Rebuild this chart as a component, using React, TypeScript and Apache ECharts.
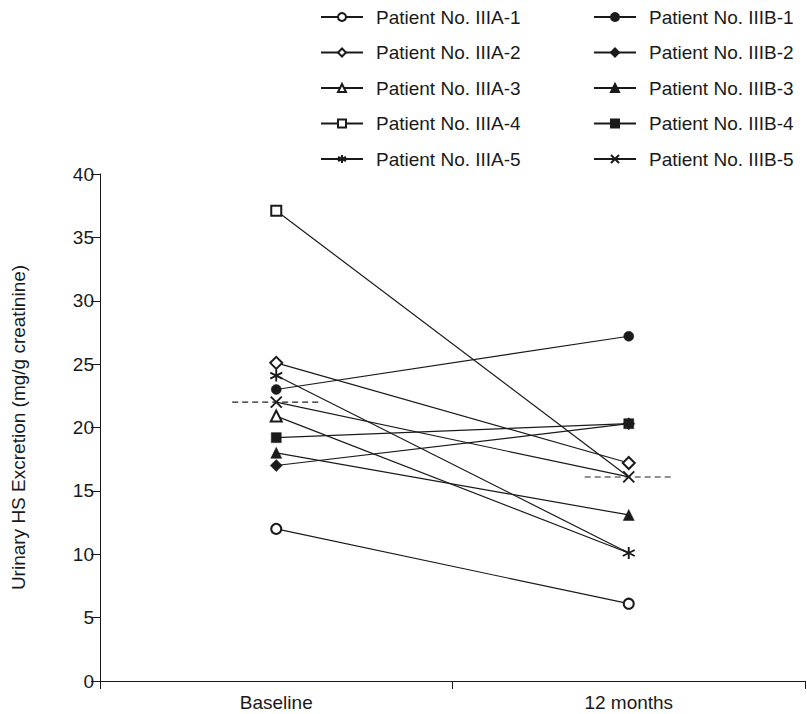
import React, { useEffect, useRef } from "react";
import * as echarts from "echarts";

const categories = ["Baseline", "12 months"];
const patients = [
  "Patient No. IIIA-1",
  "Patient No. IIIA-2",
  "Patient No. IIIA-3",
  "Patient No. IIIA-4",
  "Patient No. IIIA-5",
  "Patient No. IIIB-1",
  "Patient No. IIIB-2",
  "Patient No. IIIB-3",
  "Patient No. IIIB-4",
  "Patient No. IIIB-5",
];
const baselineValues = [12.0, 25.1, 20.9, 37.1, 24.1, 23.0, 17.0, 18.0, 19.2, 22.0];
const month12Values = [6.1, 17.2, 10.1, 16.1, 10.1, 27.2, 20.3, 13.1, 20.3, 16.1];
const meanValues = [22.0, 16.1];
const yMin = 0;
const yMax = 40;
const yInterval = 5;

const ASTERISK = "path://M5,0L5,10M0.7,2.5L9.3,7.5M0.7,7.5L9.3,2.5";
const CROSS = "path://M0,0L10,10M0,10L10,0";
const symbols = [
  "emptyCircle",
  "emptyDiamond",
  "emptyTriangle",
  "emptyRect",
  ASTERISK,
  "circle",
  "diamond",
  "triangle",
  "rect",
  CROSS,
];
const symbolSizes = [10, 12, 11, 10, 12, 10, 12, 11, 10, 11];
// markers at 12 months hidden underneath another patient's marker
const coveredEnd = [false, false, true, true, false, false, false, false, false, false];

const FONT = "Liberation Sans";
const INK = "#1a1a1a";

export default function App() {
  const ref = useRef<HTMLDivElement>(null);
  useEffect(() => {
    document.body.style.margin = "0";
    if (!ref.current) return;
    const chart = echarts.init(ref.current, undefined, { renderer: "svg" });

    const patientSeries = patients.map((name, i) => {
      const sym = symbols[i];
      const isPath = sym.startsWith("path://");
      const isEmpty = sym.startsWith("empty");
      return {
        name,
        type: "line",
        xAxisIndex: 0,
        yAxisIndex: 0,
        data: [
          baselineValues[i],
          coveredEnd[i] ? { value: month12Values[i], symbol: "none" } : month12Values[i],
        ],
        symbol: sym,
        symbolSize: symbolSizes[i],
        showSymbol: true,
        lineStyle: { color: INK, width: 1.2 },
        itemStyle: isPath
          ? { color: "#fff", borderColor: INK, borderWidth: 1.9 }
          : isEmpty
          ? { color: INK, borderColor: INK, borderWidth: 1.1 }
          : { color: INK, borderColor: INK, borderWidth: 0.5 },
        emphasis: { disabled: true },
        z: 3 + i,
      };
    });

    const half = 0.125;
    const meanSeries = meanValues.map((m, k) => ({
      name: "mean" + k,
      type: "line",
      xAxisIndex: 1,
      yAxisIndex: 0,
      data: [
        [k + 0.5 - half, m],
        [k + 0.5 + half, m],
      ],
      symbol: "none",
      lineStyle: { color: "#222", width: 1.1, type: [6, 4] },
      emphasis: { disabled: true },
      z: 2,
    }));

    const legendCommon = {
      orient: "vertical",
      top: 6,
      padding: 0,
      itemWidth: 42,
      itemHeight: 10,
      itemGap: 13.5,
      textStyle: {
        fontFamily: FONT,
        fontSize: 19,
        color: INK,
        lineHeight: 22,
        padding: [0, 0, 0, 8],
      },
    };

    chart.setOption({
      animation: false,
      backgroundColor: "#fff",
      grid: { left: 100, right: 2, top: 174, bottom: 33, containLabel: false },
      legend: [
        { ...legendCommon, left: 320, data: patients.slice(0, 5) },
        { ...legendCommon, left: 593, data: patients.slice(5) },
      ],
      xAxis: [
        {
          type: "category",
          data: categories,
          boundaryGap: true,
          axisLine: { lineStyle: { color: INK, width: 1 } },
          axisTick: { show: true, length: 8, lineStyle: { color: INK } },
          axisLabel: { fontFamily: FONT, fontSize: 19, color: INK, margin: 12 },
          splitLine: { show: false },
        },
        {
          type: "value",
          min: 0,
          max: 2,
          show: false,
        },
      ],
      yAxis: {
        type: "value",
        min: yMin,
        max: yMax,
        interval: yInterval,
        name: "Urinary HS Excretion (mg/g creatinine)",
        nameLocation: "middle",
        nameGap: 72,
        nameTextStyle: { fontFamily: FONT, fontSize: 19, color: INK },
        axisLine: { show: true, lineStyle: { color: INK, width: 1 } },
        axisTick: { show: true, length: 9, lineStyle: { color: INK } },
        axisLabel: { fontFamily: FONT, fontSize: 19, color: INK, margin: 6 },
        splitLine: { show: false },
      },
      series: [...meanSeries, ...patientSeries],
    });
    return () => chart.dispose();
  }, []);
  return <div ref={ref} style={{ width: 807, height: 714 }} />;
}
